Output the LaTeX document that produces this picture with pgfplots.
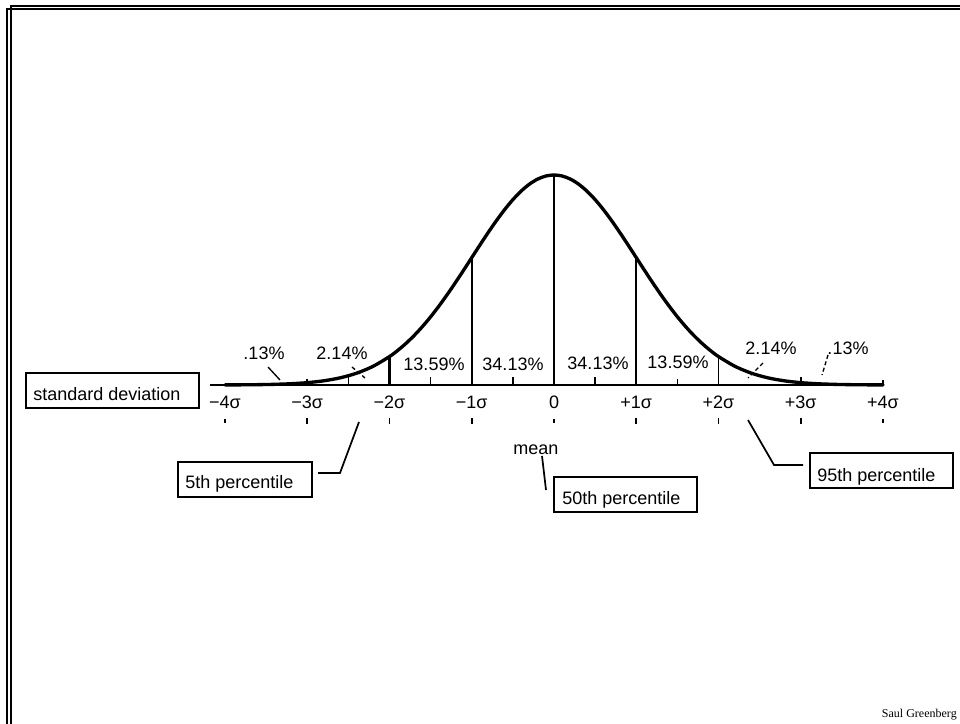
\documentclass[border=0pt]{standalone}
\usepackage{fontspec}
\setmainfont{Liberation Sans}
\newfontfamily\seriffont{Liberation Serif}
\usepackage{pgfplots}
\pgfplotsset{compat=1.18}

\begin{document}
\begin{tikzpicture}
\useasboundingbox (0,0) rectangle (720pt,543pt);
\begin{axis}[
    at={(0,0)}, anchor=south west,
    scale only axis,
    width=720pt, height=543pt,
    xmin=-6.73556, xmax=4.93617,
    ymin=-0.64400, ymax=0.73138,
    hide axis,
    clip=false,
    unbounded coords=jump,
]
    % baseline
    \addplot[black, line width=1.3pt] coordinates {(-4.18,0) (4.01,0)};

    % normal curve
    \addplot[black, line width=2.5pt, smooth, line join=round, line cap=round] coordinates {
        (-4.0,0.000134) (-3.8,0.000292) (-3.6,0.000612) (-3.4,0.001232)
        (-3.2,0.002384) (-3.0,0.004432) (-2.8,0.007915) (-2.6,0.013583)
        (-2.4,0.022395) (-2.2,0.035475) (-2.0,0.053991) (-1.9,0.065616)
        (-1.8,0.078950) (-1.7,0.094049) (-1.6,0.110921) (-1.5,0.129518)
        (-1.4,0.149727) (-1.3,0.171369) (-1.2,0.194186) (-1.1,0.217852)
        (-1.0,0.241971) (-0.9,0.266085) (-0.8,0.289692) (-0.7,0.312254)
        (-0.6,0.333225) (-0.5,0.352065) (-0.4,0.368270) (-0.3,0.381388)
        (-0.2,0.391043) (-0.1,0.396953) (0.0,0.398942)
        (0.1,0.396953) (0.2,0.391043) (0.3,0.381388) (0.4,0.368270)
        (0.5,0.352065) (0.6,0.333225) (0.7,0.312254) (0.8,0.289692)
        (0.9,0.266085) (1.0,0.241971) (1.1,0.217852) (1.2,0.194186)
        (1.3,0.171369) (1.4,0.149727) (1.5,0.129518) (1.6,0.110921)
        (1.7,0.094049) (1.8,0.078950) (1.9,0.065616) (2.0,0.053991)
        (2.2,0.035475) (2.4,0.022395) (2.6,0.013583) (2.8,0.007915)
        (3.0,0.004432) (3.2,0.002384) (3.4,0.001232) (3.6,0.000612)
        (3.8,0.000292) (4.0,0.000134)
    };

    % sigma dividers
    \addplot[black, line width=2pt] coordinates {(-2,0) (-2,0.053991)};
    \addplot[black, line width=1.3pt] coordinates {
        (-1,0) (-1,0.241971) (-1,nan)
        (0,0) (0,0.398942) (0,nan)
        (1,0) (1,0.241971) (1,nan)
        (2,0) (2,0.053991)
    };

    % small ticks above baseline
    \addplot[black, line width=1.2pt] coordinates {
        (-3,0) (-3,0.012) (-3,nan)
        (-2.5,0) (-2.5,0.015) (-2.5,nan)
        (-1.5,0) (-1.5,0.015) (-1.5,nan)
        (-0.5,0) (-0.5,0.015) (-0.5,nan)
        (0.5,0) (0.5,0.015) (0.5,nan)
        (1.5,0) (1.5,0.012) (1.5,nan)
        (3,0) (3,0.015) (3,nan)
        (4,0) (4,0.010)
    };

    % small dashes below the labels
    \addplot[black, line width=1.3pt] coordinates {
        (-4,-0.065) (-4,-0.072) (-4,nan)
        (-3,-0.063) (-3,-0.075) (-3,nan)
        (-2,-0.063) (-2,-0.074) (-2,nan)
        (-1,-0.063) (-1,-0.074) (-1,nan)
        (0,-0.065) (0,-0.073) (0,nan)
        (1,-0.062) (1,-0.075) (1,nan)
        (2,-0.063) (2,-0.074) (2,nan)
        (3,-0.063) (3,-0.074) (3,nan)
        (4,-0.065) (4,-0.072)
    };

    % sigma labels
    \begin{scope}[every node/.style={font=\fontsize{13.5}{16}\selectfont, inner sep=0pt}]
    \node at (axis cs:-4,-0.0323) {−4σ};
    \node at (axis cs:-3,-0.0323) {−3σ};
    \node at (axis cs:-2,-0.0323) {−2σ};
    \node at (axis cs:-1,-0.0323) {−1σ};
    \node at (axis cs:0,-0.0323) {0};
    \node at (axis cs:1,-0.0323) {+1σ};
    \node at (axis cs:2,-0.0323) {+2σ};
    \node at (axis cs:3,-0.0323) {+3σ};
    \node at (axis cs:4,-0.0323) {+4σ};
    \end{scope}
\end{axis}

% annotations in pixel coordinates (origin top left)
\begin{scope}[x=0.75pt, y=-0.75pt, shift={(0pt,543pt)},
    every node/.style={font=\fontsize{13.5}{16}\selectfont, inner sep=0pt}]
    % slide frame
    \draw[line width=1.5pt] (960,6) -- (11,6) -- (11,724);
    \draw[line width=1.5pt] (960,9) -- (7,9) -- (7,724);

    % percentages
    \node at (264,353) {.13\%};
    \node at (342,353) {2.14\%};
    \node at (434,364) {13.59\%};
    \node at (513,364) {34.13\%};
    \node at (598,363) {34.13\%};
    \node at (678,362) {13.59\%};
    \node at (771,348) {2.14\%};
    \node at (848,348) {.13\%};

    % leaders to the tails
    \draw[line width=1pt] (268,367) -- (280,380);
    \draw[line width=1pt, dash pattern=on 3pt off 2pt] (352,367) -- (365,378);
    \draw[line width=1pt, dash pattern=on 3pt off 2pt] (763,363) -- (748,378);
    \draw[line width=1pt, dash pattern=on 3pt off 2pt] (828,355) -- (822,375);

    % callout boxes
    \draw[line width=1.5pt] (26,373) rectangle (199,408);
    \node[anchor=base west] at (33,401) {standard deviation};

    \draw[line width=1.5pt] (178,462) rectangle (312,497);
    \node[anchor=base west] at (185,489) {5th percentile};
    \draw[line width=1.3pt] (318,473) -- (340,473) -- (359,422);

    \node[anchor=base west] at (513,455) {mean};
    \draw[line width=1.3pt] (542,456) -- (546,490);

    \draw[line width=1.5pt] (554,477) rectangle (697,512);
    \node[anchor=base west] at (562,505) {50th percentile};

    \draw[line width=1.5pt] (810,453) rectangle (953,488);
    \node[anchor=base west] at (817,482) {95th percentile};
    \draw[line width=1.3pt] (803,465) -- (774,465) -- (748,420);

    % footer
    \node[anchor=base east, font=\seriffont\fontsize{9}{10}\selectfont] at (957,718) {Saul Greenberg};
\end{scope}
\end{tikzpicture}
\end{document}
